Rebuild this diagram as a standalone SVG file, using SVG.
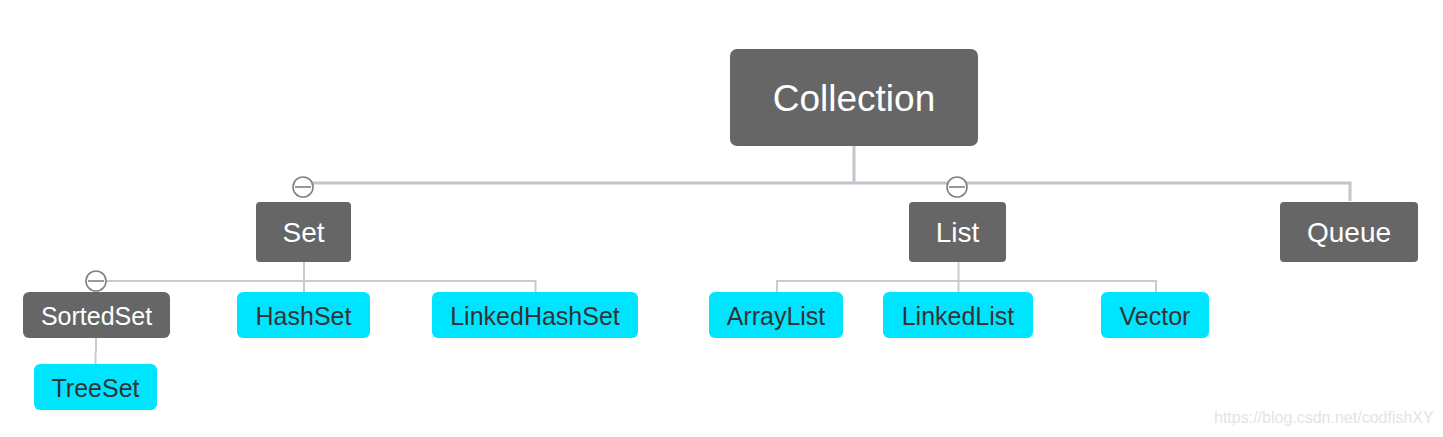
<svg xmlns="http://www.w3.org/2000/svg" width="1443" height="437" viewBox="0 0 1443 437">
<style>
.dark{fill:#666666}
.cyan{fill:#00E5FF}
.tw{fill:#ffffff;font-family:"Liberation Sans",Arial,sans-serif;text-anchor:middle}
.tb{fill:#333333;font-family:"Liberation Sans",Arial,sans-serif;text-anchor:middle;font-size:25px}
.main{fill:none;stroke:#C0C6CB;stroke-width:3}
.sub{fill:none;stroke:#C8CCD0;stroke-width:2}
.fold{fill:#ffffff;stroke:#808080;stroke-width:1.6}
.foldm{stroke:#808080;stroke-width:1.6}
.wm{fill:#e4e4e4;font-family:"Liberation Sans",Arial,sans-serif;font-size:16px}
</style>
<rect width="1443" height="437" fill="#ffffff"/>
<g id="connectors">
<path class="main" d="M854 146 V183 M303 183 H1350 V201 M957 183 V187"/>
<path class="sub" d="M304 262 V281 M96 281 H535.5 V292 M304 281 V292"/>
<path class="sub" d="M958.5 262 V292 M777 292 V281 H1156 V292"/>
<path class="sub" d="M96 338 V352 M95.5 352 V364"/>
<g id="fold-set"><circle class="fold" cx="303" cy="187" r="10"/><line class="foldm" x1="295" y1="187" x2="311" y2="187"/></g>
<g id="fold-list"><circle class="fold" cx="957" cy="187" r="10"/><line class="foldm" x1="949" y1="187" x2="965" y2="187"/></g>
<g id="fold-sortedset"><circle class="fold" cx="96" cy="281" r="10"/><line class="foldm" x1="88" y1="281" x2="104" y2="281"/></g>
</g>
<g id="collection"><rect class="dark" x="730" y="49" width="248" height="97" rx="7"/><text class="tw" x="854" y="111" font-size="37">Collection</text></g>
<g id="set"><rect class="dark" x="256" y="202" width="95" height="60" rx="4"/><text class="tw" x="303.5" y="242" font-size="28">Set</text></g>
<g id="list"><rect class="dark" x="909" y="202" width="97" height="60" rx="4"/><text class="tw" x="957.5" y="242" font-size="28">List</text></g>
<g id="queue"><rect class="dark" x="1280" y="202" width="138" height="60" rx="4"/><text class="tw" x="1349" y="242" font-size="28">Queue</text></g>
<g id="sortedset"><rect class="dark" x="23" y="292" width="147" height="46" rx="6"/><text class="tw" x="96.5" y="325" font-size="25">SortedSet</text></g>
<g id="treeset"><rect class="cyan" x="34" y="364" width="123" height="46" rx="6"/><text class="tb" x="95.5" y="397">TreeSet</text></g>
<g id="hashset"><rect class="cyan" x="237" y="292" width="133" height="46" rx="6"/><text class="tb" x="303.5" y="325">HashSet</text></g>
<g id="linkedhashset"><rect class="cyan" x="432" y="292" width="206" height="46" rx="6"/><text class="tb" x="535" y="325">LinkedHashSet</text></g>
<g id="arraylist"><rect class="cyan" x="709" y="292" width="134" height="46" rx="6"/><text class="tb" x="776" y="325">ArrayList</text></g>
<g id="linkedlist"><rect class="cyan" x="883" y="292" width="150" height="46" rx="6"/><text class="tb" x="958" y="325">LinkedList</text></g>
<g id="vector"><rect class="cyan" x="1101" y="292" width="108" height="46" rx="6"/><text class="tb" x="1155" y="325">Vector</text></g>
<text class="wm" x="1214" y="423">https://blog.csdn.net/codfishXY</text>
</svg>
